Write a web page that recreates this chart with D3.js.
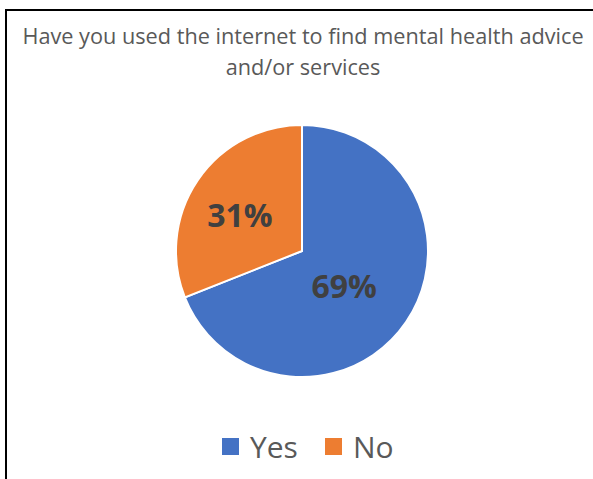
<!DOCTYPE html>
<html>
<head>
<meta charset="utf-8">
<script src="https://cdn.jsdelivr.net/npm/d3@7"></script>
<style>
  body { margin: 0; background: #fff; }
  svg { display: block; font-family: 'Open Sans', sans-serif; }
</style>
</head>
<body>
<svg></svg>
<script>
let width = 593;
let height = 479;

const categories = ['Yes', 'No'];
const values = [69, 31];
const colors = ['#4472C4', '#ED7D31'];
const titleLines = [
  'Have you used the internet to find mental health advice',
  'and/or services'
];

let data = categories.map((c, i) => ({ label: c, value: values[i] }));

let color = d3.scaleOrdinal()
              .domain(categories)
              .range(colors);

let svg = d3.select('svg')
            .attr('width', width)
            .attr('height', height);

// frame (left + top edges only visible)
svg.append('path')
   .attr('d', `M6,${height} V10 H${width}`)
   .attr('fill', 'none')
   .attr('stroke', '#000')
   .attr('stroke-width', 2);

svg.selectAll('.title')
   .data(titleLines)
   .enter()
   .append('text')
     .classed('title', true)
     .attr('x', 303)
     .attr('y', (d, i) => 44 + i * 31)
     .attr('text-anchor', 'middle')
     .style('font-size', '21.7px')
     .style('fill', '#595959')
     .text(d => d);

let radius = 126;
let chart = svg.append('g')
               .attr('transform', 'translate(302, 251)');

let arcs = d3.pie()
             .value(d => d.value)
             .sort(null);

let path = d3.arc()
             .outerRadius(radius)
             .innerRadius(0);

chart.selectAll('.arc')
     .data(arcs(data))
     .enter()
     .append('path')
       .classed('arc', true)
       .attr('d', path)
       .attr('fill', d => color(d.data.label))
       .attr('stroke', '#fff')
       .attr('stroke-width', 2);

chart.selectAll('.lbl')
     .data(arcs(data))
     .enter()
     .append('text')
       .classed('lbl', true)
       .attr('transform', d => {
         let c = path.centroid(d);
         return `translate(${c[0] - 10}, ${c[1]})`;
       })
       .attr('text-anchor', 'middle')
       .attr('dy', '0.36em')
       .style('font-size', '32px')
       .style('font-weight', 'bold')
       .style('fill', '#404040')
       .text(d => d.data.value + '%');

// legend
let legend = svg.append('g')
                .attr('transform', 'translate(0, 447)');

let items = legend.selectAll('.item')
                  .data(categories)
                  .enter()
                  .append('g')
                    .classed('item', true)
                    .attr('transform', (d, i) => `translate(${[222, 325][i]}, 0)`);

items.append('rect')
     .attr('x', 0)
     .attr('y', -9)
     .attr('width', 17)
     .attr('height', 17)
     .attr('fill', d => color(d));

items.append('text')
     .attr('x', 28)
     .attr('dy', '0.36em')
     .style('font-size', '30px')
     .style('fill', '#595959')
     .text(d => d);
</script>
</body>
</html>
